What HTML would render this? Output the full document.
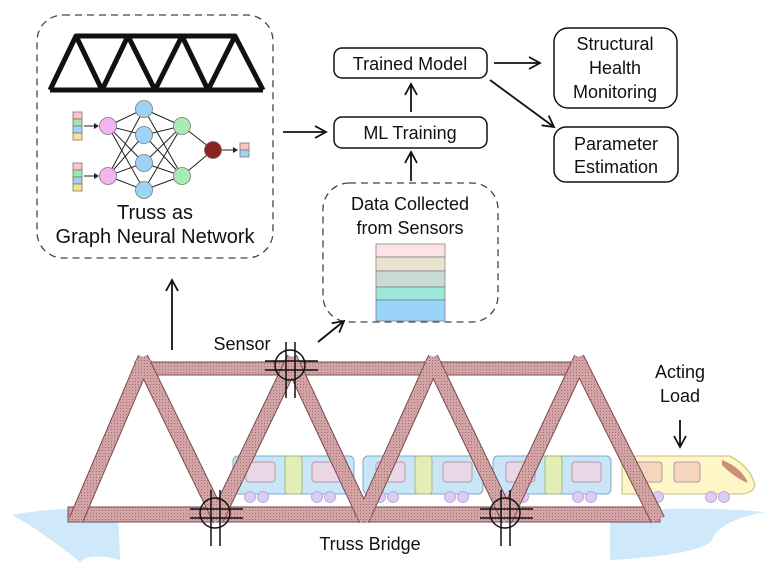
<!DOCTYPE html>
<html><head><meta charset="utf-8"><style>
html,body{margin:0;padding:0;background:#fff}
svg{display:block}
text{font-family:"Liberation Sans",sans-serif;fill:#111}
</style></head><body>
<svg width="771" height="573" viewBox="0 0 771 573" xmlns="http://www.w3.org/2000/svg">
<defs>
<pattern id="hatch" width="3" height="3" patternUnits="userSpaceOnUse">
<rect width="3" height="3" fill="#d2a4a6"/><rect width="1" height="1" fill="#a86f73"/>
</pattern>
<marker id="ah" markerWidth="14" markerHeight="14" refX="12" refY="7" orient="auto" markerUnits="userSpaceOnUse">
<path d="M1,1 L12,7 L1,13" fill="none" stroke="#111" stroke-width="1.8"/>
</marker>
</defs>

<rect x="37" y="15" width="236" height="243" rx="26" fill="none" stroke="#444" stroke-width="1.3" stroke-dasharray="7,5"/>
<g stroke="#111" stroke-width="5" fill="none" stroke-linejoin="round">
<path d="M50,90 L263,90 M76,36 L235,36 M50,90 L76,36 L102,90 L128,36 L155,90 L182,36 L208,90 L235,36 L263,90"/>
</g>
<g stroke="#222" stroke-width="1">
<line x1="108" y1="126" x2="144" y2="109"/><line x1="108" y1="126" x2="144" y2="135"/><line x1="108" y1="126" x2="144" y2="163"/><line x1="108" y1="126" x2="144" y2="190"/>
<line x1="108" y1="176" x2="144" y2="109"/><line x1="108" y1="176" x2="144" y2="135"/><line x1="108" y1="176" x2="144" y2="163"/><line x1="108" y1="176" x2="144" y2="190"/>
<line x1="144" y1="109" x2="182" y2="126"/><line x1="144" y1="135" x2="182" y2="126"/><line x1="144" y1="163" x2="182" y2="126"/><line x1="144" y1="190" x2="182" y2="126"/>
<line x1="144" y1="109" x2="182" y2="176"/><line x1="144" y1="135" x2="182" y2="176"/><line x1="144" y1="163" x2="182" y2="176"/><line x1="144" y1="190" x2="182" y2="176"/>
<line x1="182" y1="126" x2="213" y2="150"/><line x1="182" y1="176" x2="213" y2="150"/>
<line x1="84" y1="126" x2="98" y2="126"/><line x1="84" y1="176" x2="98" y2="176"/><line x1="222" y1="150" x2="236" y2="150"/>
</g>
<g fill="#222"><path d="M99,126 l-5,-3 v6z"/><path d="M99,176 l-5,-3 v6z"/><path d="M238,150 l-5,-3 v6z"/></g>
<g stroke="#777" stroke-width="0.8">
<circle cx="108" cy="126" r="8.5" fill="#f4b4f0"/><circle cx="108" cy="176" r="8.5" fill="#f4b4f0"/>
<circle cx="144" cy="109" r="8.5" fill="#9fd3f5"/><circle cx="144" cy="135" r="8.5" fill="#9fd3f5"/><circle cx="144" cy="163" r="8.5" fill="#9fd3f5"/><circle cx="144" cy="190" r="8.5" fill="#9fd3f5"/>
<circle cx="182" cy="126" r="8.5" fill="#a7ecb1"/><circle cx="182" cy="176" r="8.5" fill="#a7ecb1"/>
<circle cx="213" cy="150" r="8.5" fill="#8b2323"/>
<rect x="73" y="112" width="9" height="7" fill="#ffc4c4"/><rect x="73" y="119" width="9" height="7" fill="#9fe6a8"/><rect x="73" y="126" width="9" height="7" fill="#9fd3f5"/><rect x="73" y="133" width="9" height="7" fill="#f9e38a"/>
<rect x="73" y="163" width="9" height="7" fill="#ffc4c4"/><rect x="73" y="170" width="9" height="7" fill="#9fe6a8"/><rect x="73" y="177" width="9" height="7" fill="#9fd3f5"/><rect x="73" y="184" width="9" height="7" fill="#f9e38a"/>
<rect x="240" y="143" width="9" height="7" fill="#ffc4c4"/><rect x="240" y="150" width="9" height="7" fill="#9fd3f5"/>
</g>
<text x="155" y="219" font-size="20" text-anchor="middle">Truss as</text>
<text x="155" y="243" font-size="20" text-anchor="middle">Graph Neural Network</text>

<g fill="#fff" stroke="#111" stroke-width="1.5">
<rect x="334" y="48" width="153" height="30" rx="8"/>
<rect x="334" y="117" width="153" height="31" rx="8"/>
<rect x="554" y="28" width="123" height="80" rx="14"/>
<rect x="554" y="127" width="124" height="55" rx="12"/>
</g>
<rect x="323" y="183" width="175" height="139" rx="26" fill="none" stroke="#444" stroke-width="1.3" stroke-dasharray="7,5"/>
<g font-size="18" text-anchor="middle">
<text x="410" y="70">Trained Model</text>
<text x="410" y="139">ML Training</text>
<text x="615" y="50">Structural</text><text x="615" y="74">Health</text><text x="615" y="98">Monitoring</text>
<text x="616" y="150">Parameter</text><text x="616" y="173">Estimation</text>
<text x="410" y="210">Data Collected</text><text x="410" y="234">from Sensors</text>
</g>
<g stroke="#777" stroke-width="0.7">
<rect x="376" y="244" width="69" height="13" fill="#fde3e6"/>
<rect x="376" y="257" width="69" height="14" fill="#e8e4d0"/>
<rect x="376" y="271" width="69" height="16" fill="#c9dcd4"/>
<rect x="376" y="287" width="69" height="13" fill="#9ee8d9"/>
<rect x="376" y="300" width="69" height="21" fill="#9ad3f8"/>
</g>

<g stroke="#111" stroke-width="1.8" fill="none" marker-end="url(#ah)">
<line x1="172" y1="350" x2="172" y2="280"/>
<line x1="283" y1="132" x2="326" y2="132"/>
<line x1="318" y1="342" x2="344" y2="321"/>
<line x1="411" y1="181" x2="411" y2="152"/>
<line x1="411" y1="112" x2="411" y2="84"/>
<line x1="494" y1="63" x2="540" y2="63"/>
<line x1="490" y1="80" x2="554" y2="127"/>
<line x1="680" y1="420" x2="680" y2="447"/>
</g>

<path d="M12,515 Q60,505 118,512 L120,560 Q90,552 80,562 Q40,530 12,515Z" fill="#cfe9fa"/>
<path d="M610,512 Q690,505 765,512 Q720,520 712,540 Q700,555 610,560Z" fill="#cfe9fa"/>

<g stroke="#7aa9c7" stroke-width="1">
<rect x="233" y="456" width="121" height="38" rx="5" fill="#c8e6f7"/>
<rect x="363" y="456" width="120" height="38" rx="5" fill="#c8e6f7"/>
<rect x="493" y="456" width="118" height="38" rx="5" fill="#c8e6f7"/>
</g>
<path d="M622,456 L730,456 Q752,468 755,486 Q752,494 740,494 L622,494Z" fill="#fdf6c7" stroke="#c9b97a"/>
<path d="M722,460 Q742,468 748,483 Q735,478 722,465Z" fill="#cf8c7a"/>
<g stroke="#b89aa6" stroke-width="1" fill="#ead7e6">
<rect x="246" y="462" width="29" height="20" rx="3"/><rect x="312" y="462" width="29" height="20" rx="3"/>
<rect x="376" y="462" width="29" height="20" rx="3"/><rect x="443" y="462" width="29" height="20" rx="3"/>
<rect x="506" y="462" width="29" height="20" rx="3"/><rect x="572" y="462" width="29" height="20" rx="3"/>
<rect x="636" y="462" width="26" height="20" rx="3" fill="#f7d6c0"/><rect x="674" y="462" width="26" height="20" rx="3" fill="#f7d6c0"/>
</g>
<g fill="#e2eeb6" stroke="#a8b878"><rect x="285" y="456" width="17" height="38" rx="3"/><rect x="415" y="456" width="17" height="38" rx="3"/><rect x="545" y="456" width="17" height="38" rx="3"/></g>
<g fill="#dccbf2" stroke="#b3a0d8" stroke-width="0.8">
<circle cx="250" cy="497" r="5.5"/><circle cx="263" cy="497" r="5.5"/><circle cx="317" cy="497" r="5.5"/><circle cx="330" cy="497" r="5.5"/>
<circle cx="380" cy="497" r="5.5"/><circle cx="393" cy="497" r="5.5"/><circle cx="450" cy="497" r="5.5"/><circle cx="463" cy="497" r="5.5"/>
<circle cx="510" cy="497" r="5.5"/><circle cx="523" cy="497" r="5.5"/><circle cx="578" cy="497" r="5.5"/><circle cx="591" cy="497" r="5.5"/>
<circle cx="658" cy="497" r="5.5"/><circle cx="711" cy="497" r="5.5"/><circle cx="724" cy="497" r="5.5"/>
</g>

<g fill="url(#hatch)" stroke="#7a4a4c" stroke-width="1">
<rect x="140" y="362" width="445" height="13"/>
<rect x="68" y="507" width="592" height="15"/>
</g>
<g fill="none">
<g stroke="#7a4a4c" stroke-width="15">
<line x1="76" y1="520" x2="145" y2="358"/>
<line x1="141" y1="358" x2="220" y2="520"/>
<line x1="216" y1="520" x2="294" y2="358"/>
<line x1="290" y1="358" x2="366" y2="520"/>
<line x1="362" y1="520" x2="435" y2="358"/>
<line x1="431" y1="358" x2="509" y2="520"/>
<line x1="505" y1="520" x2="581" y2="358"/>
<line x1="577" y1="358" x2="658" y2="520"/>
</g>
<g stroke="url(#hatch)" stroke-width="13">
<line x1="76" y1="520" x2="145" y2="358"/>
<line x1="141" y1="358" x2="220" y2="520"/>
<line x1="216" y1="520" x2="294" y2="358"/>
<line x1="290" y1="358" x2="366" y2="520"/>
<line x1="362" y1="520" x2="435" y2="358"/>
<line x1="431" y1="358" x2="509" y2="520"/>
<line x1="505" y1="520" x2="581" y2="358"/>
<line x1="577" y1="358" x2="658" y2="520"/>
</g>
</g>

<g stroke="#111" stroke-width="1.5" fill="none">
<circle cx="290" cy="365" r="15"/>
<path d="M286,342 V398 M295,342 V398 M265,361 H318 M265,370 H318"/>
<circle cx="215" cy="513" r="15"/>
<path d="M211,490 V546 M220,490 V546 M190,509 H243 M190,518 H243"/>
<circle cx="505" cy="513" r="15"/>
<path d="M501,490 V546 M510,490 V546 M480,509 H533 M480,518 H533"/>
</g>

<g font-size="18" text-anchor="middle">
<text x="242" y="350">Sensor</text>
<text x="680" y="378">Acting</text><text x="680" y="402">Load</text>
<text x="370" y="550">Truss Bridge</text>
</g>
</svg>
</body></html>
